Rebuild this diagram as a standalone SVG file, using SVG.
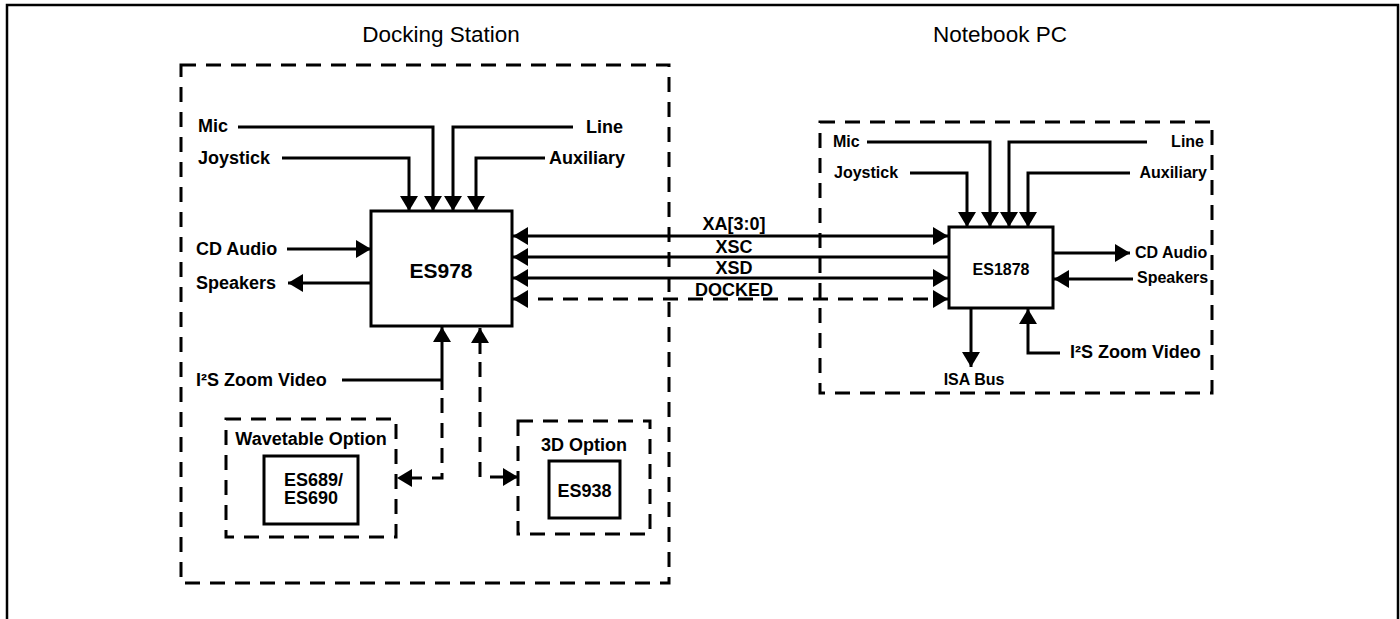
<svg xmlns="http://www.w3.org/2000/svg" width="1400" height="619" viewBox="0 0 1400 619">
<style>
.t{font-family:"Liberation Sans",Arial,sans-serif;font-weight:bold;font-size:18px;fill:#000}
.s{font-size:16px}
.title{font-family:"Liberation Sans",Arial,sans-serif;font-size:22.5px;fill:#000;text-anchor:middle}
.box{fill:#fff;stroke:#000;stroke-width:3}
.dbox{fill:none;stroke:#000;stroke-width:3;stroke-dasharray:15 10}
.ln{fill:none;stroke:#000;stroke-width:3}
.dl{fill:none;stroke:#000;stroke-width:3;stroke-dasharray:15 10}
.m{text-anchor:middle}
.e{text-anchor:end}
</style>
<defs>
<marker id="ah" markerUnits="userSpaceOnUse" markerWidth="16" markerHeight="18" refX="15" refY="9" orient="auto-start-reverse">
<path d="M0,0 L15,9 L0,18 z" fill="#000"/>
</marker>
</defs>
<rect width="1400" height="619" fill="#fff"/>
<path d="M7,619 V5 H1398 V619" fill="none" stroke="#000" stroke-width="2.5"/>
<text class="title" x="441" y="42">Docking Station</text>
<text class="title" x="1000" y="42">Notebook PC</text>

<g id="docking-station">
<rect class="dbox" x="181" y="65" width="488" height="518"/>
</g>
<g id="notebook-pc">
<rect class="dbox" x="820" y="122" width="392" height="271"/>
</g>

<g id="connectors">
<path class="ln" d="M238,127 H433 V211" marker-end="url(#ah)"/>
<path class="ln" d="M573,127 H453 V211" marker-end="url(#ah)"/>
<path class="ln" d="M282,158 H409 V211" marker-end="url(#ah)"/>
<path class="ln" d="M545,158 H476 V211" marker-end="url(#ah)"/>
<path class="ln" d="M287,249 H371" marker-end="url(#ah)"/>
<path class="ln" d="M371,283 H288" marker-end="url(#ah)"/>
<path class="ln" d="M342,380 H442"/>
<path class="ln" d="M442,390 V327" marker-end="url(#ah)"/>
<path class="dl" d="M442,398 V478 H397" marker-end="url(#ah)"/>
<path class="ln" d="M480,354 V328" marker-end="url(#ah)"/>
<path class="dl" d="M480,362 V477 H518" marker-end="url(#ah)"/>
<path class="ln" d="M513,236 H948" marker-start="url(#ah)" marker-end="url(#ah)"/>
<path class="ln" d="M948,257 H513" marker-end="url(#ah)"/>
<path class="ln" d="M513,278 H948" marker-start="url(#ah)" marker-end="url(#ah)"/>
<path class="dl" d="M513,299 H948" marker-start="url(#ah)" marker-end="url(#ah)"/>
<path class="ln" d="M867,142 H990 V227" marker-end="url(#ah)"/>
<path class="ln" d="M1147,142 H1009 V227" marker-end="url(#ah)"/>
<path class="ln" d="M910,173 H967 V227" marker-end="url(#ah)"/>
<path class="ln" d="M1130,173 H1028 V227" marker-end="url(#ah)"/>
<path class="ln" d="M1053,253 H1130" marker-end="url(#ah)"/>
<path class="ln" d="M1133,279 H1054" marker-end="url(#ah)"/>
<path class="ln" d="M971,308 V367" marker-end="url(#ah)"/>
<path class="ln" d="M1060,353 H1028 V309" marker-end="url(#ah)"/>
</g>

<g id="es978">
<rect class="box" x="371" y="211" width="141" height="115"/>
<text class="t m" x="441" y="278" style="font-size:21px">ES978</text>
</g>
<g id="wavetable-option">
<rect class="dbox" x="226" y="419" width="170" height="118"/>
<text class="t m" x="311" y="445">Wavetable Option</text>
</g>
<g id="es689">
<rect class="box" x="264" y="456" width="94" height="68"/>
<text class="t" x="284" y="486">ES689/</text>
<text class="t" x="284" y="504">ES690</text>
</g>
<g id="d3-option">
<rect class="dbox" x="518" y="421" width="132" height="113"/>
<text class="t m" x="584" y="451">3D Option</text>
</g>
<g id="es938">
<rect class="box" x="549" y="461" width="71" height="57"/>
<text class="t m" x="584.5" y="497">ES938</text>
</g>
<g id="es1878">
<rect class="box" x="949" y="227" width="104" height="81"/>
<text class="t m s" x="1001" y="275">ES1878</text>
</g>

<g id="labels">
<text class="t" x="198" y="132">Mic</text>
<text class="t e" x="623" y="133">Line</text>
<text class="t" x="198" y="164">Joystick</text>
<text class="t e" x="625" y="164">Auxiliary</text>
<text class="t" x="196" y="255">CD Audio</text>
<text class="t" x="196" y="289">Speakers</text>
<text class="t" x="196" y="386">I²S Zoom Video</text>
<text class="t m" x="734" y="230">XA[3:0]</text>
<text class="t m" x="734" y="253">XSC</text>
<text class="t m" x="734" y="274">XSD</text>
<text class="t m" x="734" y="296">DOCKED</text>
<text class="t s" x="833" y="147">Mic</text>
<text class="t s e" x="1204" y="147">Line</text>
<text class="t s" x="834" y="178">Joystick</text>
<text class="t s e" x="1207" y="178">Auxiliary</text>
<text class="t s" x="1135" y="258">CD Audio</text>
<text class="t s" x="1137" y="283">Speakers</text>
<text class="t s m" x="974" y="385">ISA Bus</text>
<text class="t" x="1070" y="358">I²S Zoom Video</text>
</g>
</svg>
